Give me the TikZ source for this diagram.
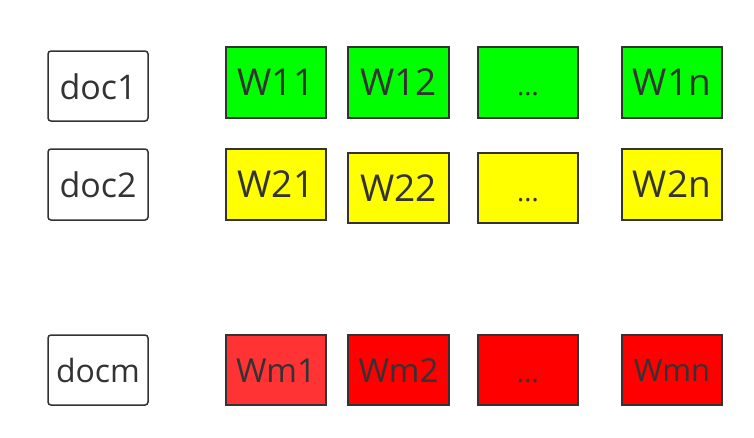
\documentclass[tikz,border=0pt]{standalone}
\usepackage{fontspec}
\setmainfont{Open Sans}
\definecolor{ink}{HTML}{333333}
\definecolor{cgreen}{HTML}{00FF00}
\definecolor{cyellow}{HTML}{FFFF00}
\definecolor{cred}{HTML}{FF0000}
\definecolor{clred}{HTML}{FF3333}
\tikzset{
  box/.style={draw=ink, line width=1.5pt, inner sep=0pt, minimum width=100pt, minimum height=70pt,
    text=ink, text depth=0pt},
  docbox/.style={box, fill=white, rounded corners=3pt, font=\fontsize{34}{34}\selectfont, text height=26pt},
  wbox/.style={box, font=\fontsize{37}{37}\selectfont, text height=26pt},
  wmbox/.style={box, font=\fontsize{33}{33}\selectfont, text height=24pt},
  dotbox/.style={box, font=\fontsize{27}{27}\selectfont, text height=26pt},
}
\begin{document}
\begin{tikzpicture}[x=1pt,y=-1pt]
\useasboundingbox (0,0) rectangle (754,437);
% doc column
\node[docbox] (doc1) at (98,86) {doc1};
\node[docbox, minimum height=71pt] (doc2) at (98,184.5) {doc2};
\node[docbox, font=\fontsize{32}{32}\selectfont, text height=25pt] (docm) at (98,370) {docm};
% row 1
\node[wbox, fill=cgreen, minimum height=71pt] (w11) at (276,82.5) {W11};
\node[wbox, fill=cgreen, minimum height=71pt, minimum width=101pt] (w12) at (398.5,82.5) {W12};
\node[dotbox, fill=cgreen, minimum height=71pt] (d1) at (528,82.5) {...};
\node[wbox, fill=cgreen, minimum height=71pt] (w1n) at (672,82.5) {W1n};
% row 2
\node[wbox, fill=cyellow, minimum height=71pt] (w21) at (276,184.5) {W21};
\node[wbox, fill=cyellow, minimum height=70pt, minimum width=101pt] (w22) at (398.5,188) {W22};
\node[dotbox, fill=cyellow, minimum height=70pt] (d2) at (528,188) {...};
\node[wbox, fill=cyellow, minimum height=71pt] (w2n) at (672,184.5) {W2n};
% row m
\node[wmbox, fill=clred] (wm1) at (276,370) {Wm1};
\node[wmbox, fill=cred, minimum width=101pt] (wm2) at (398.5,370) {Wm2};
\node[dotbox, fill=cred, text height=24pt] (dm) at (528,370) {...};
\node[wmbox, fill=cred, font=\fontsize{31}{31}\selectfont, text height=23pt] (wmn) at (672,370) {Wmn};
\end{tikzpicture}
\end{document}
